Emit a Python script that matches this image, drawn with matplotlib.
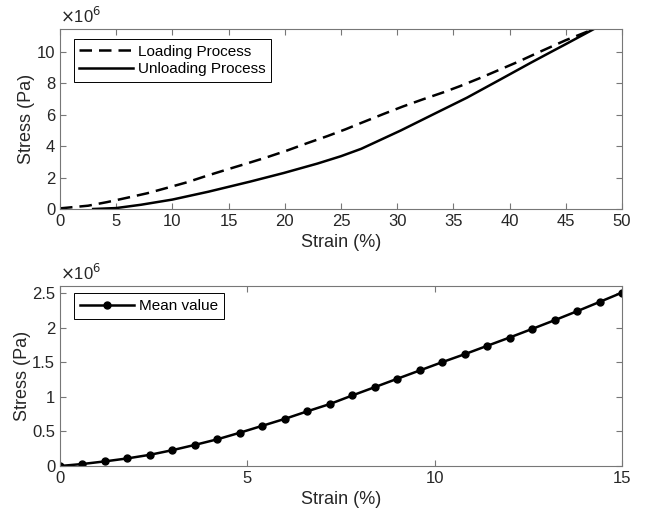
import matplotlib
matplotlib.use("Agg")
import matplotlib.pyplot as plt
from matplotlib.ticker import FuncFormatter

# loading / unloading curves: strain (%) and stress (x1e6 Pa)
load_strain = [0, 2.5, 4.2, 6.0, 7.75, 9.5, 11.3, 13.0, 14.8, 16.6, 18.4,
               20.2, 22.0, 23.8, 25.4, 26.6, 28.8, 30.5, 32.3, 34.1, 35.6,
               37.4, 39.1, 40.8, 42.5, 45.0, 47.5]
load_stress = [0.04, 0.21, 0.44, 0.72, 1.0, 1.34, 1.70, 2.1, 2.5, 2.89, 3.29,
               3.72, 4.19, 4.64, 5.07, 5.42, 6.05, 6.52, 6.98, 7.42, 7.82,
               8.34, 8.86, 9.38, 9.94, 10.74, 11.45]

unload_strain = [2.95, 5.0, 7.2, 10.0, 13.2, 16.9, 19.9, 22.9, 25.0, 26.8,
                 30.3, 33.2, 36.2, 39.2, 41.9, 43.6, 45.0, 47.5]
unload_stress = [0.0, 0.06, 0.27, 0.6, 1.1, 1.74, 2.29, 2.89, 3.36, 3.83,
                 4.99, 6.02, 7.08, 8.25, 9.31, 9.96, 10.49, 11.45]

# mean value curve
mean_strain = [0, 0.6, 1.2, 1.8, 2.4, 3.0, 3.6, 4.2, 4.8, 5.4, 6.0, 6.6, 7.2,
               7.8, 8.4, 9.0, 9.6, 10.2, 10.8, 11.4, 12.0, 12.6, 13.2, 13.8, 14.4, 15.0]
mean_stress = [0, 0.029, 0.067, 0.11, 0.162, 0.229, 0.305, 0.386, 0.481, 0.581,
               0.681, 0.79, 0.895, 1.019, 1.139, 1.26, 1.38, 1.5, 1.615, 1.736,
               1.856, 1.98, 2.106, 2.236, 2.37, 2.505]

plt.rcParams["font.family"] = ["Liberation Sans", "DejaVu Sans"]

TXT = "#262626"
SPINE = "#777777"

fig = plt.figure(figsize=(6.46, 5.19), dpi=100)
ax1 = fig.add_axes([0.0929, 0.5973, 0.8700, 0.3468])
ax2 = fig.add_axes([0.0929, 0.1021, 0.8700, 0.3468])


def style(ax):
    for sp in ax.spines.values():
        sp.set_color(SPINE)
        sp.set_linewidth(0.8)
    ax.tick_params(direction="in", top=True, right=True, length=4,
                   width=0.8, color=SPINE, labelcolor=TXT, labelsize=12)
    ax.yaxis.set_major_formatter(FuncFormatter(lambda v, p: f"{v / 1e6:g}"))
    ax.text(0, 1.015, r"$\times$10$^6$", transform=ax.transAxes,
            fontsize=12, color=TXT, ha="left", va="bottom")
    ax.set_xlabel("Strain (%)", fontsize=13, color=TXT)
    ax.set_ylabel("Stress (Pa)", fontsize=13, color=TXT, labelpad=1)


ax1.plot(load_strain, [v * 1e6 for v in load_stress], color="black",
         lw=1.8, ls=(0, (5, 2.8)), label="Loading Process")
ax1.plot(unload_strain, [v * 1e6 for v in unload_stress], color="black",
         lw=1.8, label="Unloading Process")
ax1.set_xlim(0, 50)
ax1.set_ylim(0, 11.45e6)
ax1.set_xticks(range(0, 51, 5))
ax1.set_yticks([0, 2e6, 4e6, 6e6, 8e6, 10e6])
style(ax1)
leg1 = ax1.legend(loc="upper left", bbox_to_anchor=(0.025, 0.943),
                  borderaxespad=0, fontsize=11, handlelength=3.5,
                  handletextpad=0.35, fancybox=False, edgecolor="black",
                  framealpha=1, labelspacing=0.25, borderpad=0.35)
leg1.get_frame().set_linewidth(0.7)

ax2.plot(mean_strain, [v * 1e6 for v in mean_stress], color="black",
         lw=1.8, marker="o", markersize=5, label="Mean value")
ax2.set_xlim(0, 15)
ax2.set_ylim(0, 2.6e6)
ax2.set_xticks([0, 5, 10, 15])
ax2.set_yticks([0, 0.5e6, 1e6, 1.5e6, 2e6, 2.5e6])
style(ax2)
leg2 = ax2.legend(loc="upper left", bbox_to_anchor=(0.025, 0.962),
                  borderaxespad=0, fontsize=11, handlelength=3.5,
                  handletextpad=0.35, fancybox=False, edgecolor="black",
                  framealpha=1, borderpad=0.4)
leg2.get_frame().set_linewidth(0.7)

fig.savefig("out.png", dpi=100)
